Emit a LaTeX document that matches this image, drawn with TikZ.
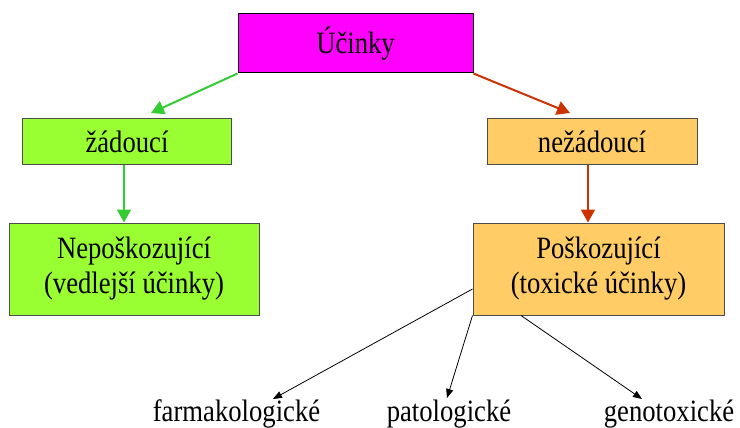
\documentclass[tikz,border=0pt]{standalone}
\usepackage{fontspec}
\setmainfont{Liberation Serif}[FakeStretch=0.86]
\usetikzlibrary{arrows.meta}

\definecolor{boxpink}{HTML}{FF00FF}
\definecolor{boxgreen}{HTML}{99FF33}
\definecolor{boxorange}{HTML}{FFCC66}
\definecolor{arrgreen}{HTML}{33CC33}
\definecolor{arrred}{HTML}{CC3300}

\begin{document}
\begin{tikzpicture}[x=1pt, y=-1pt, font=\fontsize{31}{35}\selectfont]
  \tikzset{box/.style={draw=black!70, line width=1pt, align=center, inner sep=0pt},
           big/.style={->, line width=2pt, >={Triangle[length=13pt, width=14pt]}},
           small/.style={->, line width=0.8pt, >={Triangle[length=9pt, width=7pt]}}}
  \useasboundingbox (0,0) rectangle (740,428);
  % boxes
  \node[box, draw=black, fill=boxpink, minimum width=235pt, minimum height=59pt] (ucinky) at (355.5,43.5) {Účinky};
  \node[box, fill=boxgreen, minimum width=209pt, minimum height=45pt] (zad) at (127,141.5) {žádoucí};
  \node[box, fill=boxorange, minimum width=210pt, minimum height=45pt] (nezad) at (592,141.5) {nežádoucí};
  \node[box, fill=boxgreen, minimum width=250pt, minimum height=92pt] (nepo) at (134,269) {Nepoškozující\\(vedlejší účinky)};
  \node[box, fill=boxorange, minimum width=251pt, minimum height=92pt] (posk) at (598.5,269) {Poškozující\\(toxické účinky)};
  % labels
  \node[anchor=base] (farm) at (236.5,421) {farmakologické};
  \node[anchor=base] (pato) at (449,421) {patologické};
  \node[anchor=base] (geno) at (669,421) {genotoxické};
  % arrows
  \coordinate (za) at (151,113);
  \coordinate (ne) at (570,113);
  \draw[big, arrgreen] (ucinky.south west) -- (za);
  \draw[big, arrred] (ucinky.south east) -- (ne);
  \draw[big, arrgreen] (zad.south -| 124,0) -- (nepo.north -| 124,0);
  \draw[big, arrred] (nezad.south -| 588,0) -- (posk.north -| 588,0);
  \draw[small] (posk.west |- 0,289) -- (273,399);
  \draw[small] (posk.south west) -- (447,398);
  \draw[small] (posk.south -| 521,0) -- (642,399);
\end{tikzpicture}
\end{document}
